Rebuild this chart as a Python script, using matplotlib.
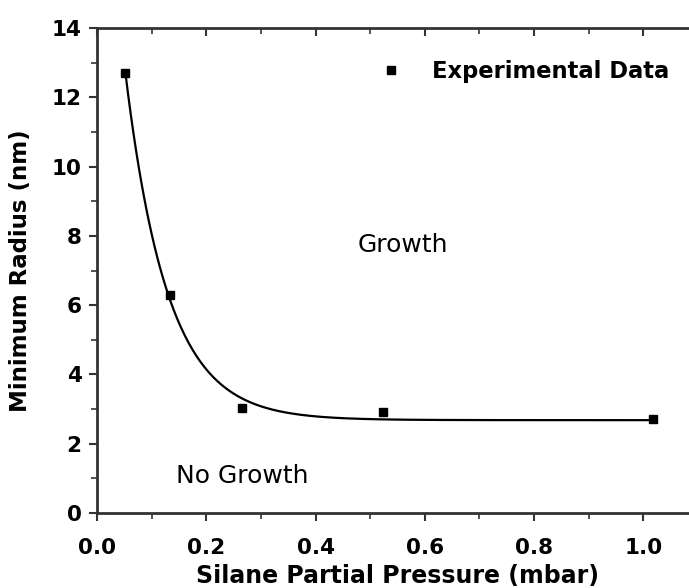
import numpy as np
import matplotlib.pyplot as plt
from matplotlib.ticker import MultipleLocator

# measured minimum radius vs silane partial pressure
pressure = [0.052, 0.134, 0.266, 0.524, 1.018]
radius = [12.7, 6.3, 3.03, 2.91, 2.71]

# exponential decay fit  y = y0 + A*exp(-x/t)
fit_y0 = 2.68
fit_A = 19.7
fit_t = 0.077

plt.rcParams['font.family'] = ['DejaVu Sans']

fig = plt.figure(figsize=(6.89, 5.88), dpi=100)
W, H = 689, 588
# right spine sits just outside the canvas (x range runs to 1.1)
ax = fig.add_axes([97 / W, 1 - 513 / H, 601 / W, (513 - 28) / H])

xfit = np.linspace(pressure[0], pressure[-1], 400)
yfit = fit_y0 + fit_A * np.exp(-xfit / fit_t)
ax.plot(xfit, yfit, color='black', lw=1.6, zorder=2)
ax.plot(pressure, radius, 's', color='black', ms=6, zorder=3,
        label='Experimental Data')

ax.set_xlim(0, 1.1)
ax.set_ylim(0, 14)
ax.xaxis.set_major_locator(MultipleLocator(0.2))
ax.xaxis.set_minor_locator(MultipleLocator(0.1))
ax.yaxis.set_major_locator(MultipleLocator(2))
ax.yaxis.set_minor_locator(MultipleLocator(1))
ax.set_xticks([0.0, 0.2, 0.4, 0.6, 0.8, 1.0])
ax.set_xticklabels(['0.0', '0.2', '0.4', '0.6', '0.8', '1.0'])

for s in ax.spines.values():
    s.set_linewidth(2)
    s.set_color('#333333')

ax.tick_params(axis='both', which='major', direction='out', length=6,
               width=1.5, labelsize=15.5, color='#333333')
ax.tick_params(axis='both', which='minor', direction='out', length=4,
               width=1.2, color='#333333')
ax.tick_params(axis='x', which='major', pad=12)
ax.tick_params(axis='y', which='major', pad=5)
ax.tick_params(axis='x', which='both', top=True)
ax.tick_params(axis='y', which='both', right=True)
for lbl in ax.get_xticklabels() + ax.get_yticklabels():
    lbl.set_fontweight('bold')

# ticks on the top and right edges point inwards
for t in ax.xaxis.get_major_ticks() + ax.xaxis.get_minor_ticks():
    t.tick2line.set_marker(3)
for t in ax.yaxis.get_major_ticks() + ax.yaxis.get_minor_ticks():
    t.tick2line.set_marker(0)

ax.set_xlabel('Silane Partial Pressure (mbar)', fontsize=17,
              fontweight='bold', labelpad=4)
ax.set_ylabel('Minimum Radius (nm)', fontsize=16.5, fontweight='bold',
              labelpad=14)

ax.legend(loc='center left', bbox_to_anchor=(0.518, 12.75),
          bbox_transform=ax.transData, frameon=False,
          prop={'weight': 'bold', 'size': 16.3}, handletextpad=1.3,
          handlelength=1.0, borderpad=0, borderaxespad=0)

ax.text(0.56, 7.75, 'Growth', fontsize=18, ha='center', va='center')
ax.text(0.266, 1.07, 'No Growth', fontsize=18, ha='center', va='center')

fig.savefig('out.png', dpi=100)
